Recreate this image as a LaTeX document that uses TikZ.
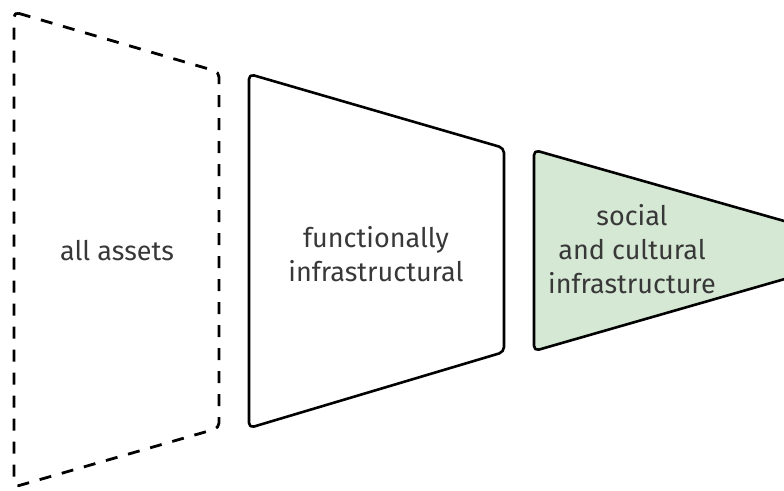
\documentclass[tikz,border=0pt]{standalone}
\usepackage{fontspec}
\setmainfont{Fira Sans}
\begin{document}
\begin{tikzpicture}[x=1pt,y=-1pt,
  stage/.style={line width=2.6pt, rounded corners=5pt, line join=round},
  stagedash/.style={stage, line width=2.8pt, dash pattern=on 12pt off 11pt},
  label/.style={align=center, font=\fontsize{27}{34}\selectfont, text=black!78, inner sep=0pt}]
  \definecolor{paleGreen}{HTML}{D5E8D4}
  \useasboundingbox (0,0) rectangle (784,490);
  \clip (0,0) rectangle (784,490);
  % outer stage: every asset
  \draw[stagedash] (14,12) -- (219,72) -- (219,428) -- (14,487) -- cycle;
  \node[label] (all) at (117,251) {all assets};
  % middle stage
  \draw[stage] (249,74) -- (504,148) -- (504,352) -- (249,428) -- cycle;
  \node[label] (func) at (376,254) {functionally\\infrastructural};
  % inner stage, running off the right edge
  \draw[stage, fill=paleGreen] (534,150) -- (830,234) -- (830,266) -- (534,351) -- cycle;
  \node[label] (social) at (632,249) {social\\and cultural\\infrastructure};
\end{tikzpicture}
\end{document}
